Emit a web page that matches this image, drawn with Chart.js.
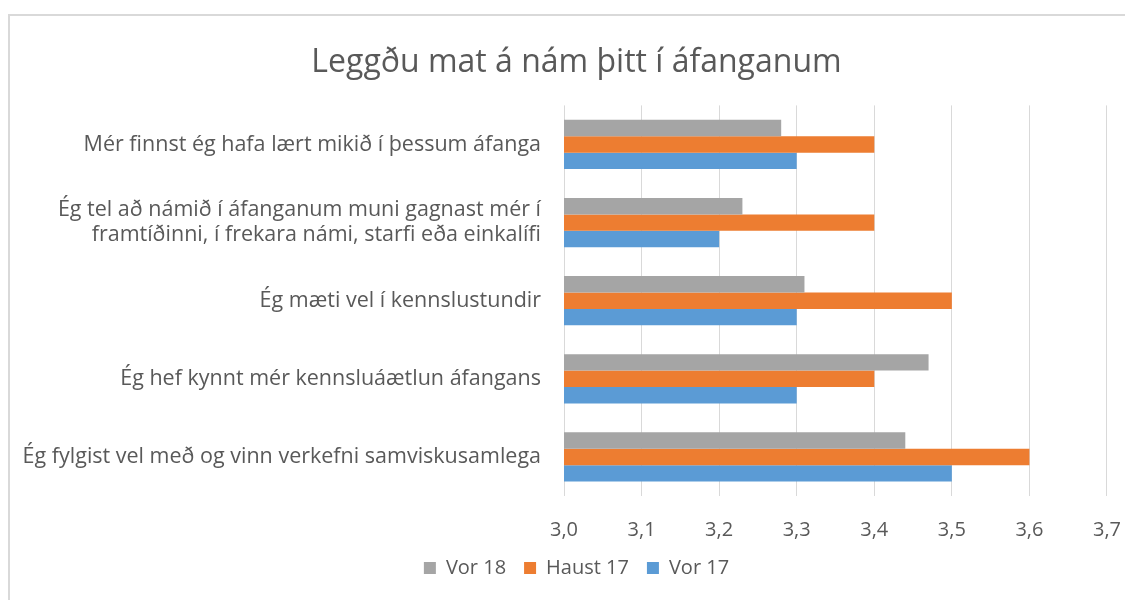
<!DOCTYPE html>
<html>
<head>
<meta charset="utf-8">
<script src="https://cdn.jsdelivr.net/npm/chart.js@4.4.0/dist/chart.umd.min.js"></script>
<style>
  body { margin: 0; background: #fff; overflow: hidden; }
  #box { position: absolute; left: 8px; top: 14px; width: 1160px; height: 620px; border: 2px solid #d9d9d9; overflow: hidden; }
</style>
</head>
<body>
<div id="box"><canvas id="myChart" width="1133" height="572"></canvas></div>
<script>
const spurningar = [
  "Mér finnst ég hafa lært mikið í þessum áfanga",
  ["Ég tel að námið í áfanganum muni gagnast mér í", "framtíðinni, í frekara námi, starfi eða einkalífi"],
  "Ég mæti vel í kennslustundir",
  "Ég hef kynnt mér kennsluáætlun áfangans",
  "Ég fylgist vel með og vinn verkefni samviskusamlega"
];

const vor18 = [3.28, 3.23, 3.31, 3.47, 3.44];
const haust17 = [3.4, 3.4, 3.5, 3.4, 3.6];
const vor17 = [3.3, 3.2, 3.3, 3.3, 3.5];

const litur1 = "#a5a5a5";
const litur2 = "#ed7d31";
const litur3 = "#5b9bd5";
const textalitur = "#595959";

const grafico = document.getElementById('myChart').getContext("2d");

new Chart(grafico, {
  type: 'bar',
  data: {
    labels: spurningar,
    datasets: [
      { label: 'Vor 18', data: vor18, backgroundColor: litur1 },
      { label: 'Haust 17', data: haust17, backgroundColor: litur2 },
      { label: 'Vor 17', data: vor17, backgroundColor: litur3 }
    ]
  },
  options: {
    indexAxis: 'y',
    responsive: false,
    animation: false,
    categoryPercentage: 0.63,
    barPercentage: 1,
    layout: { padding: 0 },
    plugins: {
      title: {
        display: true,
        text: 'Leggðu mat á nám þitt í áfanganum',
        color: textalitur,
        font: { family: 'Open Sans', size: 32, weight: 'normal' },
        padding: { top: 28, bottom: 23 }
      },
      legend: {
        position: 'bottom',
        labels: {
          color: textalitur,
          font: { family: 'Open Sans', size: 20 },
          boxWidth: 12,
          boxHeight: 12,
          padding: 18
        }
      },
      tooltip: { enabled: false }
    },
    scales: {
      x: {
        min: 3,
        max: 3.7,
        ticks: {
          stepSize: 0.1,
          color: textalitur,
          font: { family: 'Open Sans', size: 20 },
          padding: 22,
          callback: v => v.toFixed(1).replace('.', ',')
        },
        grid: { color: '#d9d9d9', lineWidth: 1, drawTicks: false },
        border: { display: false },
        afterFit: s => { s.height = 44; }
      },
      y: {
        ticks: {
          color: textalitur,
          font: { family: 'Open Sans', size: 21.5, lineHeight: 1.15 },
          padding: 15
        },
        grid: { display: false },
        border: { display: false },
        afterFit: s => { s.width = 554; }
      }
    }
  }
});
</script>
</body>
</html>
